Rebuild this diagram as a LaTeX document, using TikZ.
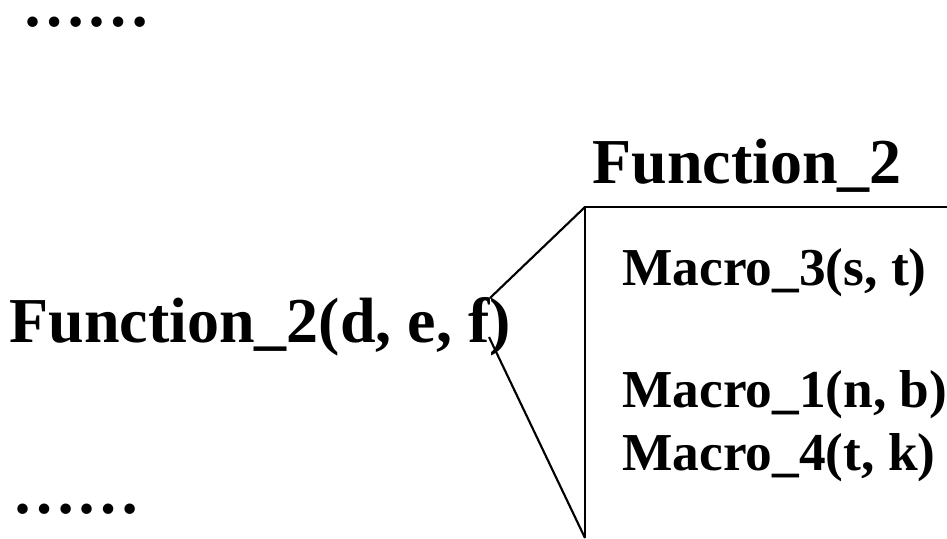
\documentclass[tikz,border=0pt]{standalone}
\usepackage{fontspec}
\setmainfont{Liberation Serif}
\usepackage{tikz}
\usetikzlibrary{positioning}

\begin{document}
\begin{tikzpicture}[x=0.375pt, y=-0.375pt,
    big/.style={anchor=base west,inner sep=0pt,font=\fontsize{24}{28}\selectfont\bfseries},
    small/.style={anchor=base west,inner sep=0pt,font=\fontsize{20}{23}\selectfont\bfseries},
    edge/.style={line width=0.8pt}]
  \useasboundingbox (0,0) rectangle (947,538);
  \node[big,text height=4pt,text depth=0pt] (dotstop) at (22,26) {……};
  \node[big,text height=4pt,text depth=0pt] (dotsbot) at (12,513) {……};
  \node[big] (fcall) at (9,342) {Function\_2(d, e, f)};
  \node[big] (ftitle) at (592,183) {Function\_2};
  \node[small] (m3) at (622,285) {Macro\_3(s, t)};
  \node[small] (m1) at (622,407) {Macro\_1(n, b)};
  \node[small] (m4) at (622,470) {Macro\_4(t, k)};
  \coordinate (boxtl) at (585,207);
  \coordinate (boxtr) at (947,207);
  \coordinate (boxbl) at (585,538);
  \coordinate (callhi) at (490,298);
  \coordinate (calllo) at (489,337);
  \draw[edge] (boxtr) -- (boxtl) -- (boxbl);
  \draw[edge] (callhi) -- (boxtl);
  \draw[edge] (calllo) -- (boxbl);
\end{tikzpicture}
\end{document}
